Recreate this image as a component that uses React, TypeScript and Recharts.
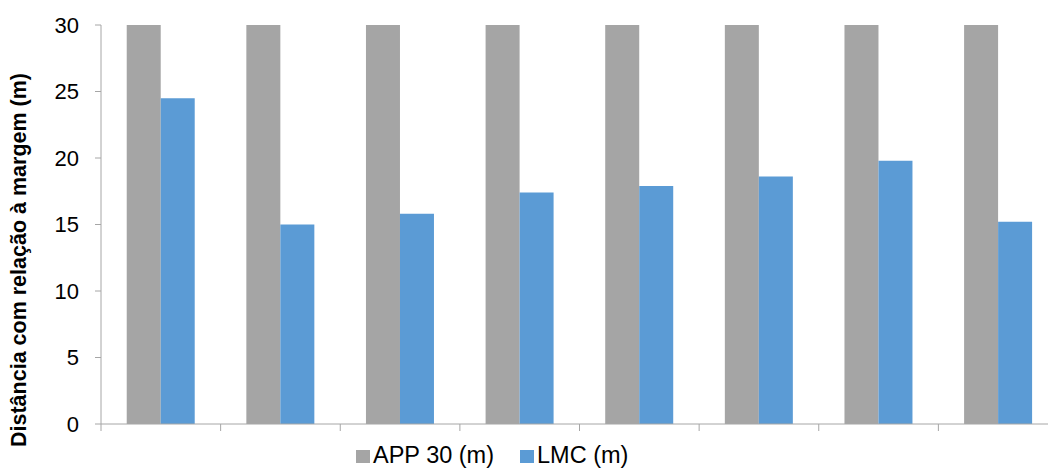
import React from 'react';
import { BarChart, Bar, XAxis, YAxis } from 'recharts';

const categories = ['1', '2', '3', '4', '5', '6', '7', '8'];
const app30 = [30, 30, 30, 30, 30, 30, 30, 30];
const lmc = [24.5, 15.0, 15.8, 17.4, 17.9, 18.6, 19.8, 15.2];
const yTicks = [0, 5, 10, 15, 20, 25, 30];

const seriesNames = ['APP 30 (m)', 'LMC (m)'];
const seriesColors = ['#A5A5A5', '#5B9BD5'];

const data = categories.map((name, i) => ({ name, app: app30[i], lmc: lmc[i] }));

const FONT = '"Liberation Sans", Arial, sans-serif';
const AXIS = '#A6A6A6';

const CHART_W = 1070;
const MARGIN = { top: 25, right: 12, bottom: 14, left: 0 };
const Y_AXIS_W = 101;
const PLOT_W = CHART_W - MARGIN.left - MARGIN.right - Y_AXIS_W;
const HALF_BAND = PLOT_W / categories.length / 2;

// Excel-style tick marks sit between categories, not under them
const BoundaryTick = (props: any) => {
  const { x, y, index } = props;
  const left = x - HALF_BAND;
  const right = x + HALF_BAND;
  return (
    <g>
      <line x1={left} x2={left} y1={y} y2={y + 7} stroke={AXIS} />
      {index === categories.length - 1 && (
        <line x1={right} x2={right} y1={y} y2={y + 7} stroke={AXIS} />
      )}
    </g>
  );
};

const App: React.FC = () => {
  return (
    <div
      style={{
        position: 'absolute',
        left: 0,
        top: 0,
        width: 1048,
        height: 468,
        overflow: 'hidden',
        background: '#fff',
        fontFamily: FONT,
      }}
    >
      <BarChart
        width={CHART_W}
        height={468}
        data={data}
        margin={MARGIN}
        barCategoryGap="21.5%"
        barGap={0}
      >
        <XAxis
          dataKey="name"
          height={30}
          stroke={AXIS}
          tickLine={false}
          tickSize={0}
          tickMargin={0}
          interval={0}
          tick={<BoundaryTick />}
        />
        <YAxis
          domain={[0, 30]}
          ticks={yTicks}
          width={Y_AXIS_W}
          tickSize={6}
          tickMargin={16}
          stroke={AXIS}
          tick={{ fill: '#000', fontSize: 22, fontFamily: FONT }}
          label={{
            content: () => (
              <text
                x={19}
                y={260}
                transform="rotate(-90 19 260)"
                textAnchor="middle"
                dominantBaseline="central"
                fontFamily={FONT}
                fontWeight="bold"
                fontSize={21.5}
                fill="#000"
              >
                Distância com relação à margem (m)
              </text>
            ),
          }}
        />
        <Bar dataKey="app" name={seriesNames[0]} fill={seriesColors[0]} isAnimationActive={false} />
        <Bar dataKey="lmc" name={seriesNames[1]} fill={seriesColors[1]} isAnimationActive={false} />
      </BarChart>
      <div
        style={{
          position: 'absolute',
          left: 356,
          top: 441,
          display: 'flex',
          alignItems: 'center',
          fontSize: 23.5,
          lineHeight: '28px',
          color: '#000',
          whiteSpace: 'nowrap',
        }}
      >
        {seriesNames.map((n, i) => (
          <div key={n} style={{ display: 'flex', alignItems: 'center', marginRight: 26 }}>
            <span
              style={{
                display: 'inline-block',
                width: 14,
                height: 13,
                background: seriesColors[i],
                marginRight: 3,
                marginTop: 2,
              }}
            />
            <span>{n}</span>
          </div>
        ))}
      </div>
    </div>
  );
};

export default App;
